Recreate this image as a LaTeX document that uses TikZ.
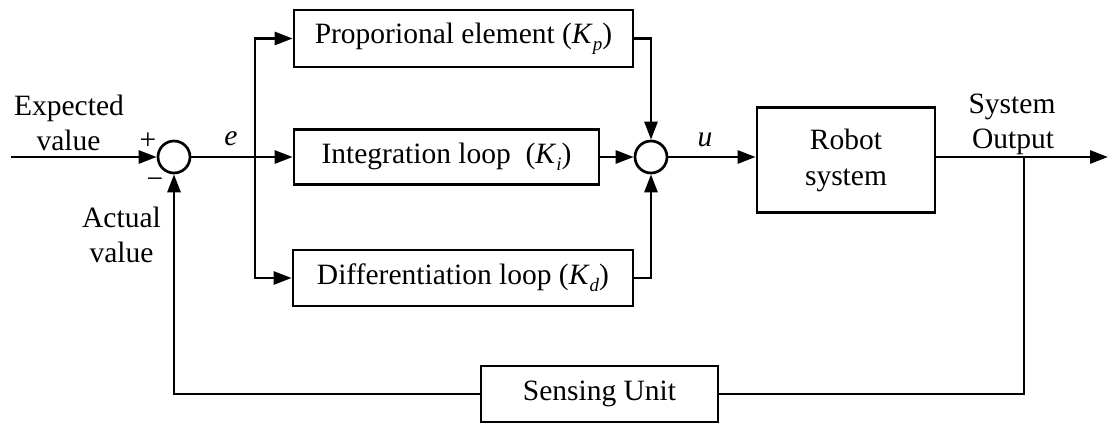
\documentclass[tikz,border=0pt]{standalone}
\usepackage{fontspec}
\setmainfont{Liberation Serif}
\usetikzlibrary{arrows.meta}
\newcommand\sbx[1]{\raisebox{-0.25em}{\fontsize{19}{19}\selectfont\itshape #1}}
\begin{document}
\begin{tikzpicture}[x=1pt,y=-1pt,
  line width=2.7pt,
  every node/.style={font=\fontsize{29.5}{35}\selectfont},
  arr/.style={-{Triangle[length=18pt,width=13pt]}},
  blk/.style={draw,rectangle,inner sep=0pt},
  sum/.style={draw,circle,minimum size=32pt,inner sep=0pt},
  lbl/.style={anchor=base,inner sep=0pt}]
\useasboundingbox (0,0) rectangle (1118,431);

\node[sum] (s1) at (174,157) {};
\node[sum] (s2) at (651,157) {};
\node[blk,minimum width=339pt,minimum height=57pt] (p) at (463.5,38.5) {Proporional element (\textit{K}\sbx{p})};
\node[blk,minimum width=305pt,minimum height=55pt] (i) at (446.5,157) {Integration loop\ \ (\textit{K}\sbx{i})};
\node[blk,minimum width=340pt,minimum height=56pt] (d) at (463,278) {Differentiation loop (\textit{K}\sbx{d})};
\node[blk,minimum width=178pt,minimum height=105pt,align=center] (r) at (846,160) {Robot\\[1pt]system};
\node[blk,minimum width=237pt,minimum height=56pt] (su) at (599.5,394) {Sensing Unit};

\coordinate (in) at (11,157);
\coordinate (br) at (255,157);
\coordinate (out) at (1108,157);
\coordinate (ob) at (1024,157);

\draw[arr] (in) -- (s1.west);
\draw (s1.east) -- (br);
\draw[arr] (br) -- (i.west);
\draw[arr] (br) |- (p.west);
\draw[arr] (br) |- (d.west);
\draw[arr] (p.east) -| (s2.north);
\draw[arr] (i.east) -- (s2.west);
\draw[arr] (d.east) -| (s2.south);
\draw[arr] (s2.east) -- (r.west |- s2.east);
\draw[arr] (r.east |- s2.east) -- (out);
\draw (ob) |- (su.east);
\draw[arr] (su.west) -| (s1.south);

\node[lbl] (t1) at (69,115) {Expected};
\node[lbl] (t2) at (68.5,150) {value};
\node[lbl] (t3) at (121.5,227) {Actual};
\node[lbl] (t4) at (121.5,262) {value};
\node[lbl] (t5) at (1012,113) {System};
\node[lbl] (t6) at (1013,148) {Output};
\node (plus) at (148,141) {+};
\node (minus) at (155,183) {−};
\node (e) at (231,139) {\textit{e}};
\node (u) at (705,140) {\textit{u}};
\end{tikzpicture}
\end{document}
